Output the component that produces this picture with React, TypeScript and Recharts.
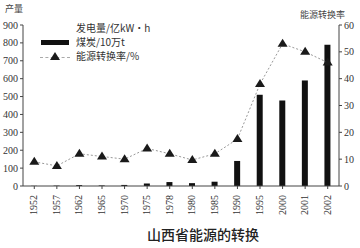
import { ComposedChart, Bar, Line, XAxis, YAxis } from 'recharts';

const years = ['1952', '1957', '1962', '1965', '1970', '1975', '1978', '1980', '1985', '1990', '1995', '2000', '2001', '2002'];
const output = [1, 2, 5, 3, 6, 14, 22, 16, 24, 140, 510, 478, 590, 790];
const rate = [9, 7.5, 12, 11, 10, 14, 12, 9.7, 12, 17.5, 38, 53, 50, 46];
const leftTicks = [0, 100, 200, 300, 400, 500, 600, 700, 800, 900];
const rightTicks = [0, 10, 20, 30, 40, 50, 60];

const data = years.map((y, i) => ({ year: y, output: output[i], rate: rate[i] }));

const serif = '"Liberation Serif", "DejaVu Serif", serif';
const cjk = '"Noto Sans CJK SC", sans-serif';

const YearTick = ({ x, y, payload }: any) => (
  <text
    x={0}
    y={0}
    transform={`translate(${x + 3},${y + 4}) rotate(-90)`}
    textAnchor="end"
    fontSize={10}
    fontFamily={serif}
    fill="#333"
  >
    {payload.value}
  </text>
);

const Triangle = ({ cx, cy, index }: any) => (
  <polygon key={index} points={`${cx},${cy - 5} ${cx - 5},${cy + 3} ${cx + 5},${cy + 3}`} fill="#1a1a1a" />
);

export default function App() {
  return (
    <div style={{ position: 'absolute', left: 0, top: 0, width: 360, height: 248, background: '#fff' }}>
      <ComposedChart width={360} height={248} data={data} margin={{ top: 25, right: 0, bottom: 32, left: 0 }}>
        <XAxis
          dataKey="year"
          interval={0}
          height={30}
          tick={<YearTick />}
          tickSize={3}
          stroke="#444"
        />
        <YAxis
          yAxisId="left"
          width={23}
          domain={[0, 900]}
          ticks={leftTicks}
          tickSize={3}
          stroke="#444"
          tick={{ fontSize: 10, fontFamily: serif, fill: '#333' }}
        />
        <YAxis
          yAxisId="right"
          orientation="right"
          width={21}
          domain={[0, 60]}
          ticks={rightTicks}
          tickSize={3}
          stroke="#444"
          tick={{ fontSize: 10, fontFamily: serif, fill: '#333' }}
        />
        <Bar yAxisId="left" dataKey="output" fill="#111" barSize={6} isAnimationActive={false} />
        <Line
          yAxisId="right"
          dataKey="rate"
          stroke="#999"
          strokeWidth={1}
          strokeDasharray="2 2"
          dot={<Triangle />}
          activeDot={false}
          isAnimationActive={false}
        />
      </ComposedChart>

      <div style={{ position: 'absolute', left: 5, top: 2, fontFamily: cjk, fontSize: 9, color: '#444' }}>产量</div>
      <div style={{ position: 'absolute', left: 300, top: 8, fontFamily: cjk, fontSize: 9, color: '#444' }}>能源转换率</div>

      <div style={{ position: 'absolute', left: 76, top: 21, fontFamily: cjk, fontSize: 10, color: '#333', lineHeight: '14px' }}>
        <div>发电量/亿kW·h</div>
        <div>煤炭/10万t</div>
        <div>能源转换率/%</div>
      </div>
      <div style={{ position: 'absolute', left: 41, top: 40, width: 28, height: 5, background: '#111' }} />
      <div style={{ position: 'absolute', left: 40, top: 57, width: 30, borderTop: '1px dashed #aaa' }} />
      <svg style={{ position: 'absolute', left: 50, top: 51 }} width={10} height={10}>
        <polygon points="5,1 0,9 10,9" fill="#1a1a1a" />
      </svg>

      <div style={{ position: 'absolute', left: 147, top: 224, fontFamily: cjk, fontSize: 14, fontWeight: 500, color: '#222' }}>
        山西省能源的转换
      </div>
    </div>
  );
}
